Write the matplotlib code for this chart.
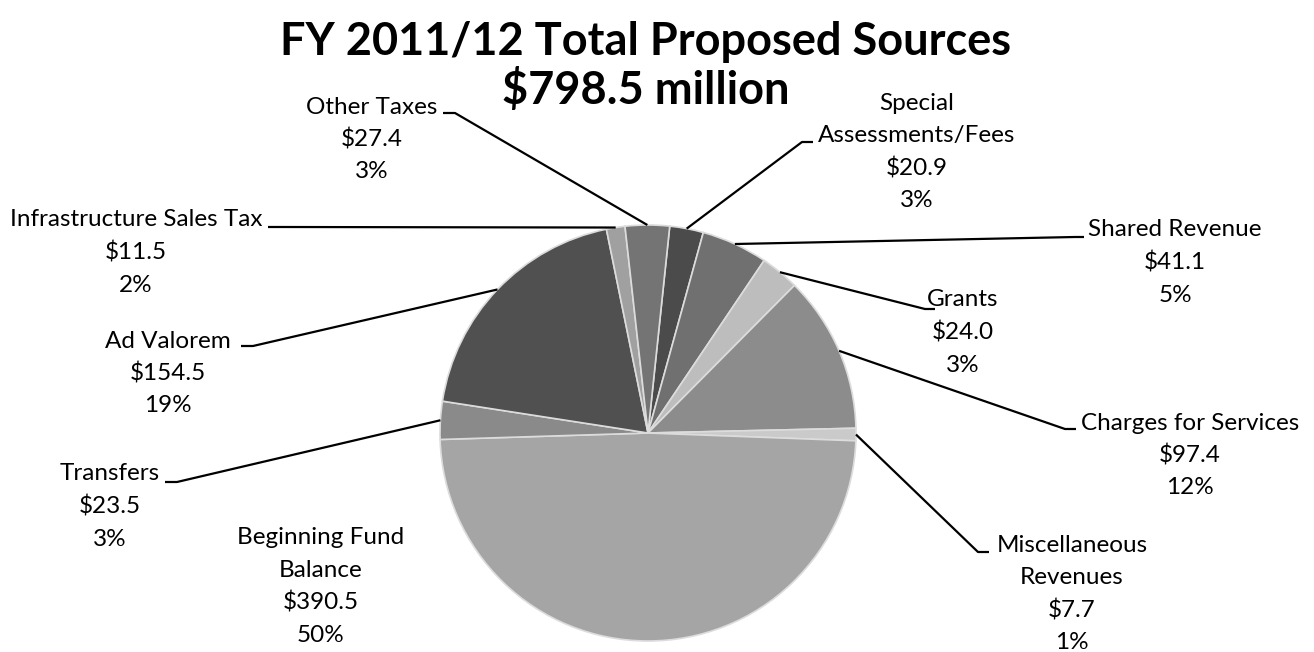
import matplotlib.pyplot as plt
import numpy as np

plt.rcParams['font.family'] = ['Lato', 'DejaVu Sans']

# sources in $ million, clockwise from just right of 12 o'clock
categories = ['Special\nAssessments/Fees', 'Shared Revenue', 'Grants',
              'Charges for Services', 'Miscellaneous\nRevenues',
              'Beginning Fund\nBalance', 'Transfers', 'Ad Valorem',
              'Infrastructure Sales Tax', 'Other Taxes']
amounts = [20.9, 41.1, 24.0, 97.4, 7.7, 390.5, 23.5, 154.5, 11.5, 27.4]
percents = [3, 5, 3, 12, 1, 50, 3, 19, 2, 3]
colors = ['#4b4b4b', '#707070', '#bdbdbd', '#8c8c8c', '#cacaca',
          '#a5a5a5', '#8a8a8a', '#505050', '#a0a0a0', '#747474']

# label layout in pixel coords: centre x, first line y, leader elbow, leader end
layout = [
    (917, 103, (802, 142), (813, 142)),
    (1175, 230, (1075, 237), (1084, 237)),
    (963, 300, (925, 309), (935, 309)),
    (1190, 423, (1065, 429), (1076, 429)),
    (1072, 545, (978, 552), (989, 552)),
    (321, 538, None, None),
    (110, 474, (177, 482), (165, 482)),
    (168, 341, (253, 346), (241, 346)),
    (136, 220, (280, 227), (268, 227)),
    (372, 107, (455, 113), (443, 113)),
]

fig = plt.figure(figsize=(13.14, 6.52), dpi=100)
ax = fig.add_axes([0, 0, 1, 1])

center = (648, 433)
radius = 208
# y axis is inverted below, so counterclock here reads clockwise on screen
wedges, _ = ax.pie(amounts, colors=colors, startangle=-84, counterclock=True,
                   center=center, radius=radius,
                   wedgeprops=dict(edgecolor='#dcdcdc', linewidth=1.2))

ax.set_xlim(0, 1314)
ax.set_ylim(652, 0)
ax.set_aspect('equal')
ax.axis('off')

line_h = 32.5
for w, name, amt, pct, (cx, y0, elbow, end) in zip(wedges, categories, amounts,
                                                    percents, layout):
    lines = name.split('\n') + ['$%.1f' % amt, '%d%%' % pct]
    for i, s in enumerate(lines):
        ax.text(cx, y0 + i * line_h, s, ha='center', va='center',
                fontsize=17.5, color='#000000')
    if elbow is None:
        continue
    th = np.deg2rad((w.theta1 + w.theta2) / 2)
    px = center[0] + radius * np.cos(th)
    py = center[1] + radius * np.sin(th)
    ax.plot([px, elbow[0], end[0]], [py, elbow[1], end[1]],
            color='black', lw=1.6, solid_capstyle='butt', zorder=3)

ax.text(646, 42, 'FY 2011/12 Total Proposed Sources', ha='center',
        va='center', fontsize=32.5, fontweight='bold')
ax.text(646, 90, '$798.5 million', ha='center', va='center',
        fontsize=32.5, fontweight='bold')

fig.savefig('out.png', dpi=100)
